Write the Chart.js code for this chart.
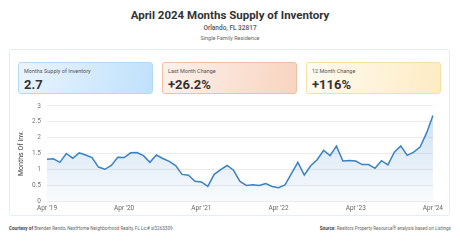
<!DOCTYPE html>
<html>
<head>
<meta charset="utf-8">
<script src="https://cdn.jsdelivr.net/npm/chart.js@4.4.1/dist/chart.umd.min.js"></script>
<style>
  body { margin: 0; width: 460px; height: 241px; background: #fff; font-family: Roboto, "Noto Sans", sans-serif; position: relative; overflow: hidden; color: #333; }
  .t { position: absolute; left: 0; width: 460px; text-align: center; }
  #title { top: 8px; font-size: 11.5px; font-weight: 700; color: #333; }
  #sub1 { top: 24px; font-size: 6.5px; font-weight: 500; color: #555; }
  #sub2 { top: 35px; font-size: 5.5px; color: #666; }
  #card { position: absolute; left: 9px; top: 49px; width: 441px; height: 167px; border: 1px solid #e6eef5; border-radius: 3px; box-sizing: border-box; }
  .box { position: absolute; top: 62px; width: 135px; height: 32px; border-radius: 3px; box-sizing: border-box; }
  .box .lab { position: absolute; left: 5px; top: 5px; font-size: 5.5px; color: #555; }
  .box .val { position: absolute; left: 5px; top: 14px; font-size: 13px; font-weight: 700; color: #333; }
  #b1 { left: 18px; background: linear-gradient(100deg, #eaf4fe, #c0e1fb); border: 1px solid #b3d9f6; }
  #b2 { left: 162px; background: linear-gradient(100deg, #fdf1ec, #f8d4c0); border: 1px solid #f1bea6; }
  #b3 { left: 306px; background: linear-gradient(100deg, #fffbf2, #fdecc4); border: 1px solid #f6dea4; }
  #wrap { position: absolute; left: 10px; top: 96px; width: 436px; height: 120px; }
  .foot { position: absolute; top: 226px; font-size: 4.6px; color: #666; white-space: nowrap; }
  .foot b { color: #444; }
</style>
</head>
<body>
<div class="t" id="title">April 2024 Months Supply of Inventory</div>
<div class="t" id="sub1">Orlando, FL 32817</div>
<div class="t" id="sub2">Single Family Residence</div>
<div id="card"></div>
<div class="box" id="b1"><div class="lab">Months Supply of Inventory</div><div class="val">2.7</div></div>
<div class="box" id="b2"><div class="lab">Last Month Change</div><div class="val">+26.2%</div></div>
<div class="box" id="b3"><div class="lab">12 Month Change</div><div class="val">+116%</div></div>
<div id="wrap"><canvas id="msiChart" width="436" height="120"></canvas></div>
<div class="foot" style="left:9px"><b>Courtesy of</b> Brenden Rendo, NextHome Neighborhood Realty, FL Lic# sl3263309</div>
<div class="foot" style="right:9px"><b>Source:</b> Realtors Property Resource® analysis based on Listings</div>
<script>
const monthNames = ['Jan', 'Feb', 'Mar', 'Apr', 'May', 'Jun', 'Jul', 'Aug', 'Sep', 'Oct', 'Nov', 'Dec'];
const startYear = 2019, startMonth = 3; // Apr 2019

// months supply, Apr 2019 .. Apr 2024
const supply = [
  1.32, 1.33, 1.22, 1.50, 1.35, 1.52, 1.45, 1.37, 1.07, 1.00, 1.12, 1.38,
  1.37, 1.52, 1.53, 1.43, 1.22, 1.45, 1.34, 1.25, 1.12, 0.84, 0.81, 0.62,
  0.60, 0.46, 0.84, 0.99, 1.12, 0.97, 0.62, 0.49, 0.51, 0.49, 0.55, 0.46,
  0.42, 0.51, 0.86, 1.22, 0.82, 1.11, 1.30, 1.60, 1.43, 1.73, 1.26, 1.28,
  1.26, 1.15, 1.15, 1.03, 1.27, 1.14, 1.54, 1.74, 1.44, 1.54, 1.70, 2.14,
  2.70
];

const labels = supply.map((v, i) => {
  const m = (startMonth + i) % 12;
  const y = startYear + Math.floor((startMonth + i) / 12);
  return monthNames[m] + " '" + String(y).slice(2);
});

const yTicks = [0, 0.5, 1, 1.5, 2, 2.5, 3];

const ctx = document.getElementById('msiChart').getContext('2d');

new Chart(ctx, {
  type: 'line',
  data: {
    labels: labels,
    datasets: [{
      data: supply,
      borderColor: '#3a82c4',
      borderWidth: 1.5,
      pointRadius: 0,
      tension: 0,
      fill: 'origin',
      backgroundColor: (c) => {
        const area = c.chart.chartArea;
        if (!area) return 'rgba(63,134,200,0.15)';
        const g = c.chart.ctx.createLinearGradient(0, area.top, 0, area.bottom);
        g.addColorStop(0, 'rgba(63,134,200,0.28)');
        g.addColorStop(1, 'rgba(63,134,200,0.03)');
        return g;
      }
    }]
  },
  options: {
    responsive: false,
    animation: false,
    layout: { padding: { left: 7, right: 13, top: 6, bottom: 0 } },
    scales: {
      y: {
        min: 0,
        max: 3,
        afterBuildTicks: (axis) => { axis.ticks = yTicks.map(v => ({ value: v })); },
        afterFit: (axis) => { axis.width = 30; },
        ticks: {
          color: '#777',
          font: { size: 6.5, family: 'Roboto' },
          padding: 6,
          callback: (v) => String(v)
        },
        grid: { color: '#ececec', drawTicks: false },
        border: { display: false },
        title: { display: true, text: 'Months Of Inv.', color: '#444', font: { size: 7, family: 'Roboto' }, padding: 0 }
      },
      x: {
        afterFit: (axis) => { axis.height = 15; },
        ticks: {
          color: '#666',
          font: { size: 6.5, family: 'Roboto' },
          autoSkip: false,
          maxRotation: 0,
          padding: 3,
          callback: function (val, i) { return i % 12 === 0 ? labels[i] : ''; }
        },
        grid: { display: false, drawTicks: false },
        border: { display: false }
      }
    },
    plugins: {
      legend: { display: false },
      tooltip: { enabled: false }
    }
  }
});
</script>
</body>
</html>
